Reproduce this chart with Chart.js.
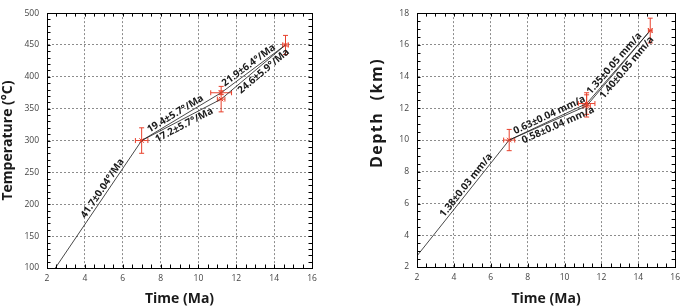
<!DOCTYPE html>
<html><head><meta charset="utf-8">
<script src="https://cdn.jsdelivr.net/npm/chart.js@4.4.0/dist/chart.umd.min.js"></script>
<style>
html,body{margin:0;padding:0;background:#fff;width:685px;height:307px;overflow:hidden;}
canvas{position:absolute;top:0;}
#c1{left:0;} #c2{left:342px;}
</style></head><body>
<canvas id="c1" width="342" height="307"></canvas>
<canvas id="c2" width="343" height="307"></canvas>
<script>
// ---------------- data ----------------
const timeTicks  = [2, 4, 6, 8, 10, 12, 14, 16];
const tempTicks  = [100, 150, 200, 250, 300, 350, 400, 450, 500];
const depthTicks = [2, 4, 6, 8, 10, 12, 14, 16, 18];

const tempSampleTime     = [7.0, 11.2, 11.2, 14.6];
const tempSampleValue    = [300, 375, 365, 450];
const tempSampleTimeErr  = [0.33, 0.55, 0.2, 0.15];
const tempSampleValueErr = [20, 3, 20, 15];
const tempUpperTime  = [2.44, 7.0, 11.2, 14.6];
const tempUpperValue = [100, 300, 375, 450];
const tempLowerTime  = [7.0, 11.2, 14.6];
const tempLowerValue = [300, 365, 450];
const tempRateLabels = ['41.7±0.04°/Ma', '19.4±5.7°/Ma', '17.2±5.7°/Ma', '21.9±6.4°/Ma', '24.6±5.9°/Ma'];

const depthSampleTime     = [7.0, 11.2, 11.2, 14.65];
const depthSampleValue    = [10.0, 12.3, 12.15, 16.9];
const depthSampleTimeErr  = [0.3, 0.45, 0.2, 0.1];
const depthSampleValueErr = [0.67, 0.68, 0.7, 0.78];
const depthUpperTime  = [2.0, 7.0, 11.2, 14.65];
const depthUpperValue = [2.7, 10.0, 12.3, 16.9];
const depthLowerTime  = [7.0, 11.2, 14.65];
const depthLowerValue = [10.0, 12.15, 16.9];
const depthRateLabels = ['1.38±0.03 mm/a', '0.63±0.04 mm/a', '0.58±0.04 mm/a', '1.35±0.05 mm/a', '1.40±0.05 mm/a'];

// label placement along segments (line, segment index, fraction, side: -1 above / 1 below)
const tempLabelPlace  = [['upper',0,0.6,-1],['upper',1,0.46,-1],['lower',0,0.5,1],['upper',2,0.48,-1],['lower',1,0.6,1]];
const depthLabelPlace = [['upper',0,0.58,-1],['upper',1,0.55,-1],['lower',0,0.6,1],['upper',2,0.5,-1],['lower',1,0.56,1]];

// ---------------- styling ----------------
const FONT = '"Open Sans", "Noto Sans", sans-serif';
const RED = '#e8412c';
const INK = '#1a1a1a';

const decor = {
  id: 'decor',
  beforeDatasetsDraw(chart, args, o) {
    const {ctx, scales: {x, y}} = chart;
    ctx.save();
    ctx.strokeStyle = RED; ctx.lineWidth = 1;
    const cap = 2.5;
    o.t.forEach((t, i) => {
      const v = o.v[i];
      const px = x.getPixelForValue(t), py = y.getPixelForValue(v);
      const x1 = x.getPixelForValue(t - o.te[i]), x2 = x.getPixelForValue(t + o.te[i]);
      const y1 = y.getPixelForValue(v - o.ve[i]), y2 = y.getPixelForValue(v + o.ve[i]);
      ctx.beginPath();
      ctx.moveTo(x1, py); ctx.lineTo(x2, py);
      ctx.moveTo(x1, py - cap); ctx.lineTo(x1, py + cap);
      ctx.moveTo(x2, py - cap); ctx.lineTo(x2, py + cap);
      ctx.moveTo(px, y1); ctx.lineTo(px, y2);
      ctx.moveTo(px - cap, y1); ctx.lineTo(px + cap, y1);
      ctx.moveTo(px - cap, y2); ctx.lineTo(px + cap, y2);
      ctx.stroke();
    });
    ctx.restore();
  },
  afterDraw(chart, args, o) {
    const {ctx, chartArea: a, scales: {x, y}} = chart;
    ctx.save();
    ctx.strokeStyle = '#000'; ctx.lineWidth = 1;
    ctx.beginPath();
    const L = 3.5;
    for (let v = x.min; v <= x.max + 1e-9; v += o.xMinor) {
      const p = Math.round(x.getPixelForValue(v)) + 0.5;
      ctx.moveTo(p, a.bottom); ctx.lineTo(p, a.bottom - L);
      ctx.moveTo(p, a.top); ctx.lineTo(p, a.top + L);
    }
    for (let v = y.min; v <= y.max + 1e-9; v += o.yMinor) {
      const p = Math.round(y.getPixelForValue(v)) + 0.5;
      ctx.moveTo(a.left, p); ctx.lineTo(a.left + L, p);
      ctx.moveTo(a.right, p); ctx.lineTo(a.right - L, p);
    }
    ctx.stroke();
    ctx.strokeRect(Math.round(a.left) + 0.5, Math.round(a.top) + 0.5, Math.round(a.right - a.left), Math.round(a.bottom - a.top));
    ctx.fillStyle = INK;
    ctx.font = 'bold 10px ' + FONT;
    ctx.textAlign = 'center';
    o.labels.forEach((txt, i) => {
      const [line, seg, f, side] = o.place[i];
      const T = o.lines[line][0], V = o.lines[line][1];
      const ax = x.getPixelForValue(T[seg]), ay = y.getPixelForValue(V[seg]);
      const bx = x.getPixelForValue(T[seg + 1]), by = y.getPixelForValue(V[seg + 1]);
      const cx = ax + (bx - ax) * f, cy = ay + (by - ay) * f;
      const ang = Math.atan2(by - ay, bx - ax);
      ctx.save();
      ctx.translate(cx, cy);
      ctx.rotate(ang);
      ctx.textBaseline = side < 0 ? 'bottom' : 'top';
      ctx.fillText(txt, 0, side < 0 ? -0.5 : 1);
      ctx.restore();
    });
    if (o.yTitle) {
      ctx.save();
      ctx.fillStyle = INK;
      ctx.font = 'bold ' + o.yTitle.size + 'px ' + FONT;
      if ('letterSpacing' in ctx) ctx.letterSpacing = o.yTitle.spacing + 'px';
      ctx.textAlign = 'center'; ctx.textBaseline = 'middle';
      ctx.translate(o.yTitle.x, o.yTitle.y);
      ctx.rotate(-Math.PI / 2);
      ctx.fillText(o.yTitle.text, 0, 0);
      ctx.restore();
    }
    ctx.restore();
  }
};

function makeChart(id, d) {
  const pts = (T, V) => T.map((t, i) => ({x: t, y: V[i]}));
  const lineDs = (T, V) => ({type: 'line', data: pts(T, V), borderColor: INK, borderWidth: 0.8,
    pointRadius: 0, fill: false, tension: 0, order: 2});
  const tickFont = {family: FONT, size: 8.5};
  return new Chart(document.getElementById(id), {
    type: 'scatter',
    data: {datasets: [
      lineDs(d.upperT, d.upperV),
      lineDs(d.lowerT, d.lowerV),
      {type: 'scatter', data: pts(d.sT, d.sV), pointStyle: 'crossRot', pointRadius: 3.2,
        borderColor: RED, backgroundColor: RED, borderWidth: 1, order: 1}
    ]},
    options: {
      responsive: false, animation: false, events: [],
      layout: {padding: d.pad},
      plugins: {
        legend: {display: false}, tooltip: {enabled: false},
        decor: {t: d.sT, v: d.sV, te: d.sTE, ve: d.sVE, xMinor: 0.5, yMinor: d.yMinor,
          labels: d.labels, place: d.place,
          lines: {upper: [d.upperT, d.upperV], lower: [d.lowerT, d.lowerV]},
          yTitle: d.customYTitle}
      },
      scales: {
        x: {
          type: 'linear', min: 2, max: 16,
          afterBuildTicks: s => { s.ticks = timeTicks.map(v => ({value: v})); },
          afterFit: s => { s.height = d.xH; },
          ticks: {font: tickFont, color: '#444', padding: 5, maxRotation: 0, autoSkip: false},
          grid: {color: '#8c8c8c', lineWidth: 1, drawTicks: false},
          border: {display: true, color: '#000', width: 1, dash: [2, 2]},
          title: {display: true, text: 'Time (Ma)', color: INK,
            font: {family: FONT, size: 14, weight: 'bold'}, padding: {top: 0, bottom: 0}}
        },
        y: {
          type: 'linear', min: d.yTicks[0], max: d.yTicks[d.yTicks.length - 1],
          afterBuildTicks: s => { s.ticks = d.yTicks.map(v => ({value: v})); },
          afterFit: s => { s.width = d.yW; },
          ticks: {font: tickFont, color: '#444', padding: 8, autoSkip: false},
          grid: {color: '#8c8c8c', lineWidth: 1, drawTicks: false},
          border: {display: true, color: '#000', width: 1, dash: [2, 2]},
          title: {display: !!d.yTitle, text: d.yTitle || '', color: INK,
            font: {family: FONT, size: 14, weight: 'bold'}, padding: {top: d.yTitlePad, bottom: 0}}
        }
      }
    },
    plugins: [decor]
  });
}

makeChart('c1', {
  sT: tempSampleTime, sV: tempSampleValue, sTE: tempSampleTimeErr, sVE: tempSampleValueErr,
  upperT: tempUpperTime, upperV: tempUpperValue, lowerT: tempLowerTime, lowerV: tempLowerValue,
  labels: tempRateLabels, place: tempLabelPlace, yTicks: tempTicks, yMinor: 10,
  pad: {top: 5, right: 30, left: 0, bottom: 0}, xH: 39, yW: 47,
  yTitle: 'Temperature (°C)', yTitlePad: 0
});

makeChart('c2', {
  sT: depthSampleTime, sV: depthSampleValue, sTE: depthSampleTimeErr, sVE: depthSampleValueErr,
  upperT: depthUpperTime, upperV: depthUpperValue, lowerT: depthLowerTime, lowerV: depthLowerValue,
  labels: depthRateLabels, place: depthLabelPlace, yTicks: depthTicks, yMinor: 0.5,
  pad: {top: 3, right: 5, left: 0, bottom: 0}, xH: 40, yW: 75,
  yTitle: null, yTitlePad: 0,
  customYTitle: {text: 'Depth  (km)', x: 35, y: 113, spacing: 1.5, size: 16}
});
</script>
</body></html>
